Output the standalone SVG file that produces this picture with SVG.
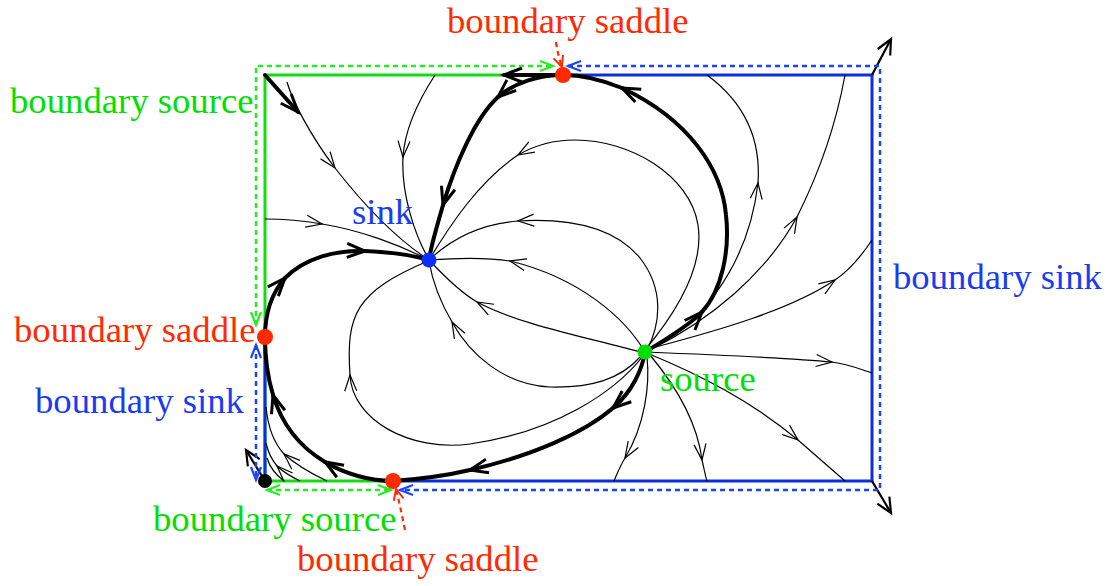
<svg xmlns="http://www.w3.org/2000/svg" width="1114" height="586" viewBox="0 0 1114 586">
<style>
.f{fill:none;stroke:#000;stroke-width:1.2}
.t{fill:none;stroke:#000;stroke-width:4;stroke-linecap:round}
.bg{fill:none;stroke:#11dd11;stroke-width:3}
.bb{fill:none;stroke:#0a2fe0;stroke-width:3}
.dg{fill:none;stroke:#22ee22;stroke-width:2.5;stroke-dasharray:5,4}
.db{fill:none;stroke:#1a44ff;stroke-width:2.5;stroke-dasharray:5,4}
.dr{fill:none;stroke:#ff2a00;stroke-width:2.2;stroke-dasharray:5,4}
.k{fill:none;stroke:#000;stroke-width:2.2}
text{font-family:"Liberation Serif","Times New Roman",serif;font-size:36.7px}
.lr{fill:#ff2a00}.lg{fill:#00e000}.lb{fill:#1a3cf0}
</style>
<defs>
<marker id="a" markerUnits="userSpaceOnUse" orient="auto" overflow="visible" markerWidth="1" markerHeight="1"><path d="M-16,-6 L0,0 L-16,6" fill="none" stroke="#000" stroke-width="1.2"/></marker>
<marker id="A" markerUnits="userSpaceOnUse" orient="auto" overflow="visible" markerWidth="1" markerHeight="1"><path d="M-18,-7 L0,0 L-18,7" fill="none" stroke="#000" stroke-width="3"/></marker>
<marker id="K" markerUnits="userSpaceOnUse" orient="auto" overflow="visible" markerWidth="1" markerHeight="1"><path d="M-15,-7 L0,0 L-15,7" fill="none" stroke="#000" stroke-width="2.2"/></marker>
<marker id="G" markerUnits="userSpaceOnUse" orient="auto-start-reverse" overflow="visible" markerWidth="1" markerHeight="1"><path d="M-13,-5 L0,0 L-13,5" fill="none" stroke="#22ee22" stroke-width="2.2"/></marker>
<marker id="B" markerUnits="userSpaceOnUse" orient="auto-start-reverse" overflow="visible" markerWidth="1" markerHeight="1"><path d="M-13,-5 L0,0 L-13,5" fill="none" stroke="#1a44ff" stroke-width="2.2"/></marker>
<marker id="R" markerUnits="userSpaceOnUse" orient="auto" overflow="visible" markerWidth="1" markerHeight="1"><path d="M-11,-5 L0,0 L-11,5" fill="none" stroke="#ff2a00" stroke-width="2"/></marker>
</defs>

<g id="boundary">
<path class="bg" d="M265,481 V75 H563"/>
<path class="bg" d="M265,481 H393"/>
<path class="bb" d="M563,75 H872 V481 H393"/>
<path class="bb" d="M265,337 V481"/>
</g>

<g id="connectors">
<!-- thin flow lines into the sink -->
<path class="f" d="M287,82 C292,100 310,135 335,168" marker-end="url(#a)"/>
<path class="f" d="M335,168 C360,200 395,238 429,260"/>
<path class="f" d="M435,75 C422,95 405,125 403,157" marker-end="url(#a)"/>
<path class="f" d="M403,157 C401,195 415,235 429,260"/>
<path class="f" d="M265,219 C285,219 305,221 322,224" marker-end="url(#a)"/>
<path class="f" d="M322,224 C360,230 400,245 429,260"/>
<path class="f" d="M645,350 C670,320 705,270 698,225 C690,175 630,140 575,140 C550,140 530,148 518,155" marker-end="url(#a)"/>
<path class="f" d="M518,155 C480,180 450,225 429,260"/>
<path class="f" d="M647,350 C660,325 665,290 640,258 C615,228 570,218 518,221" marker-end="url(#a)"/>
<path class="f" d="M518,221 C480,224 450,240 429,260"/>
<path class="f" d="M645,352 C625,318 580,278 510,261" marker-end="url(#a)"/>
<path class="f" d="M510,261 C485,257 455,258 429,260"/>
<path class="f" d="M640,352 C590,338 520,325 477,302" marker-end="url(#a)"/>
<path class="f" d="M477,302 C460,292 445,277 430,261"/>
<path class="f" d="M641,356 C620,380 590,388 550,387 C505,385 470,355 452,322" marker-end="url(#a)"/>
<path class="f" d="M452,322 C442,305 433,285 429,261"/>
<path class="f" d="M643,356 C615,392 555,432 470,444 C410,452 352,420 350,375" marker-end="url(#a)"/>
<path class="f" d="M350,375 C346,315 355,292 428,261"/>
<!-- thin flow lines out of the source -->
<path class="f" d="M648,350 C695,330 748,270 758,183" marker-end="url(#a)"/>
<path class="f" d="M758,183 C761,140 745,103 707,75"/>
<path class="f" d="M650,350 C710,320 765,275 797,217" marker-end="url(#a)"/>
<path class="f" d="M797,217 C818,175 836,125 845,75"/>
<path class="f" d="M652,348 C720,330 790,310 835,280" marker-end="url(#a)"/>
<path class="f" d="M835,280 C850,270 862,255 872,240"/>
<path class="f" d="M645,352 C720,355 790,358 832,362" marker-end="url(#a)"/>
<path class="f" d="M832,362 C848,364 860,369 872,373"/>
<path class="f" d="M647,353 C700,375 750,400 798,440" marker-end="url(#a)"/>
<path class="f" d="M798,440 C815,455 830,468 845,481"/>
<path class="f" d="M650,355 C675,385 697,420 702,460" marker-end="url(#a)"/>
<path class="f" d="M702,460 C704,468 705,475 707,481"/>
<path class="f" d="M647,357 C650,385 645,425 625,458" marker-end="url(#a)"/>
<path class="f" d="M625,458 C620,466 617,474 614,481"/>
<!-- corner flow lines -->
<path class="f" d="M327,481 C310,473 295,464 284,454" marker-end="url(#a)"/>
<path class="f" d="M284,454 C274,443 268,428 266,407"/>
<path class="f" d="M300,481 C290,476 283,472 277,466" marker-end="url(#a)"/>
<path class="f" d="M277,466 C272,460 268,452 266,443"/>
<path class="f" d="M284,481 C276,475 270,468 267,458"/>
<!-- separatrices -->
<path class="t" d="M563,75 C540,75 515,82 498,97" marker-end="url(#A)"/>
<path class="t" d="M498,97 C475,118 455,165 443,205" marker-end="url(#A)"/>
<path class="t" d="M443,205 C436,230 431,245 429,260"/>
<path class="t" d="M645,352 C660,343 690,325 702,312" marker-end="url(#A)"/>
<path class="t" d="M702,312 C722,290 730,250 726,215 C722,170 690,120 622,88" marker-end="url(#A)"/>
<path class="t" d="M622,88 C600,79 580,75 563,75"/>
<path class="t" d="M265,337 C265,315 270,295 285,278" marker-end="url(#A)"/>
<path class="t" d="M285,278 C305,258 335,250 365,251" marker-end="url(#A)"/>
<path class="t" d="M365,251 C390,252 412,255 429,260"/>
<path class="t" d="M393,481 C370,481 345,474 325,462" marker-end="url(#A)"/>
<path class="t" d="M325,462 C300,447 282,425 273,395" marker-end="url(#A)"/>
<path class="t" d="M273,395 C267,375 265,355 265,337"/>
<path class="t" d="M645,352 C642,370 632,392 613,408" marker-end="url(#A)"/>
<path class="t" d="M613,408 C585,432 535,455 470,470" marker-end="url(#A)"/>
<path class="t" d="M470,470 C445,476 420,479 393,481"/>
<path class="t" d="M563,75 L504,75" marker-end="url(#A)"/>
<path class="t" d="M265,75 L298,112" marker-end="url(#A)"/>
<!-- corner arrows -->
<path class="k" d="M872,75 L891,39" marker-end="url(#K)"/>
<path class="k" d="M872,481 L891,513" marker-end="url(#K)"/>
<path class="k" d="M265,481 L246,450" marker-end="url(#K)"/>
<!-- dashed annotations -->
<path class="dg" d="M256,325 V66 H553" marker-start="url(#G)" marker-end="url(#G)"/>
<path class="dg" d="M267,490 H391" marker-start="url(#G)" marker-end="url(#G)"/>
<path class="db" d="M568,66 H880 V490 H400" marker-start="url(#B)" marker-end="url(#B)"/>
<path class="db" d="M256,345 V480" marker-start="url(#B)" marker-end="url(#B)"/>
<path class="dr" d="M556,42 Q558,56 562,67" marker-end="url(#R)"/>
<path class="dr" d="M405,530 Q400,505 396,489" marker-end="url(#R)"/>
</g>

<g id="saddle-top"><circle cx="563" cy="75" r="8" fill="#ff2a00"/><text class="lr" x="447" y="33">boundary saddle</text></g>
<g id="saddle-left"><circle cx="265" cy="337" r="8" fill="#ff2a00"/><text class="lr" x="14" y="342">boundary saddle</text></g>
<g id="saddle-bottom"><circle cx="393" cy="481" r="8" fill="#ff2a00"/><text class="lr" x="297" y="571">boundary saddle</text></g>
<g id="sink"><circle cx="429" cy="260" r="7.5" fill="#0a2fff"/><text class="lb" x="352" y="224">sink</text></g>
<g id="source"><circle cx="645" cy="352" r="7.5" fill="#00e000"/><text class="lg" x="660" y="391">source</text></g>
<g id="corner"><circle cx="265" cy="481" r="7" fill="#000"/></g>
<g id="label-source-top"><text class="lg" x="10" y="113">boundary source</text></g>
<g id="label-source-bottom"><text class="lg" x="153" y="531">boundary source</text></g>
<g id="label-sink-right"><text class="lb" x="893" y="289">boundary sink</text></g>
<g id="label-sink-left"><text class="lb" x="35" y="413">boundary sink</text></g>
</svg>
